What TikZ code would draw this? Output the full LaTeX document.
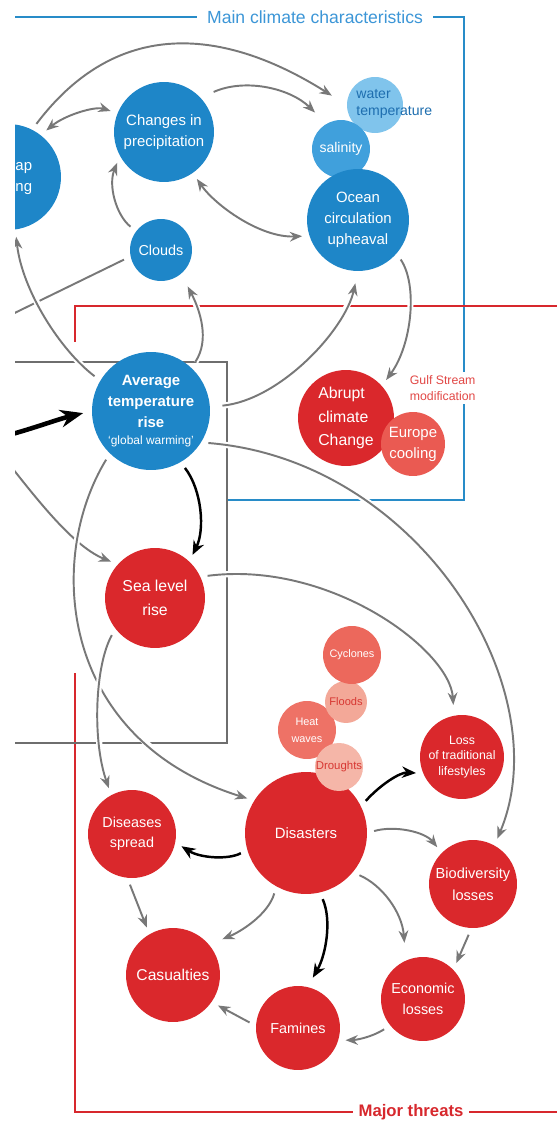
\documentclass[tikz,border=0pt]{standalone}
\usepackage{fontspec}
\setmainfont{Liberation Sans}
\usetikzlibrary{arrows.meta}

\definecolor{climblue}{RGB}{30,134,200}
\definecolor{salblue}{RGB}{64,160,220}
\definecolor{waterblue}{RGB}{128,196,236}
\definecolor{watertext}{RGB}{30,110,175}
\definecolor{threatred}{RGB}{218,40,44}
\definecolor{europered}{RGB}{234,90,82}
\definecolor{cyclonered}{RGB}{236,104,92}
\definecolor{heatred}{RGB}{238,114,102}
\definecolor{floodpink}{RGB}{243,168,152}
\definecolor{droughtpink}{RGB}{245,182,168}
\definecolor{pinktext}{RGB}{215,55,50}
\definecolor{gulfred}{RGB}{226,72,70}
\definecolor{frameblue}{RGB}{40,140,200}
\definecolor{titleblue}{RGB}{60,150,215}
\definecolor{framered}{RGB}{215,40,45}
\definecolor{boxgray}{RGB}{110,110,110}
\definecolor{linkgray}{RGB}{120,120,120}

\tikzset{
  bubble/.style={circle, fill=#1, text=white, align=center, inner sep=0pt,
    font=\fontsize{8.5}{12}\selectfont},
  bubsize/.style={minimum size=#1*0.04cm},
  link/.style={draw=linkgray, line width=1.1pt, >={Stealth[length=7pt,width=5.5pt]}, ->,
    shorten <=4pt, shorten >=4pt, preaction={draw=white, line width=3.5pt, -}},
  boldlink/.style={link, draw=black, line width=1.4pt, >={Stealth[length=8pt,width=6.5pt]}, ->},
  frameline/.style={line width=1.1pt}
}

\begin{document}
\begin{tikzpicture}[x=0.02cm, y=-0.02cm]
    \path[use as bounding box, fill=white] (0,0) rectangle (557,1121);
    \clip (15,0) rectangle (557,1121);
    % Draw the frames
        \draw[frameline, frameblue] (15,17) -- (464,17) -- (464,500) -- (227,500);
        \draw[frameline, framered] (75,342) -- (75,306) -- (557,306);
        \draw[frameline, framered] (75,673) -- (75,1112) -- (557,1112);
        \draw[frameline, boxgray] (15,362) -- (227,362) -- (227,743) -- (15,743);
        \node[fill=white, text=titleblue, font=\fontsize{10}{12}\selectfont, inner xsep=5.5pt] (maintitle)
            at (315,17) {Main climate characteristics};
        \node[fill=white, text=framered, font=\bfseries\fontsize{9.5}{11}\selectfont, inner xsep=3pt] (majortitle)
            at (411,1112) {Major threats};
    % Draw the climate circles
        \node[bubble=climblue, bubsize=53] (icecap) at (8,177) {Ice cap\\melting};
        \node[bubble=climblue, bubsize=50] (precip) at (164,132) {Changes in\\precipitation};
        \node[bubble=waterblue, bubsize=28] (watertemp) at (375,105) {};
        \node[text=watertext, align=left, anchor=west, inner sep=0pt,
            font=\fontsize{8}{10}\selectfont] (watertemplabel) at (356,104) {water\\temperature};
        \node[bubble=salblue, bubsize=29, font=\fontsize{8}{10}\selectfont] (salinity) at (341,149) {salinity};
        \node[bubble=climblue, bubsize=51] (ocean) at (358,220) {Ocean\\circulation\\upheaval};
        \node[bubble=climblue, bubsize=31, font=\fontsize{8.2}{10}\selectfont] (clouds) at (161,250) {Clouds};
        \node[bubble=climblue, bubsize=59, font=\bfseries\fontsize{8.5}{12}\selectfont] (avgtemp) at (151,411)
            {Average\\temperature\\rise\\[-2pt]{\mdseries\fontsize{6.8}{8}\selectfont `global warming'}};
    % Draw the threat circles
        \node[bubble=threatred, bubsize=48, align=left, font=\fontsize{9}{13.5}\selectfont] (abrupt) at (346,418)
            {Abrupt\\climate\\Change};
        \node[bubble=europered, bubsize=32] (europe) at (413,444) {Europe\\cooling};
        \node[fill=white, text=gulfred, align=left, anchor=west, inner sep=2pt,
            font=\fontsize{7}{9.5}\selectfont] (gulf) at (406,388) {Gulf Stream\\modification};
        \node[bubble=threatred, bubsize=50, font=\fontsize{9}{13.5}\selectfont] (sealevel) at (155,598) {Sea level\\rise};
        \node[bubble=threatred, bubsize=61] (disasters) at (306,833) {Disasters};
        \node[bubble=heatred, bubsize=29, font=\fontsize{6.2}{9.5}\selectfont] (heatwaves) at (307,730) {Heat\\waves};
        \node[bubble=floodpink, bubsize=21, text=pinktext, font=\fontsize{6.3}{8}\selectfont] (floods) at (346,702) {Floods};
        \node[bubble=cyclonered, bubsize=29, font=\fontsize{6.2}{8}\selectfont] (cyclones) at (352,655) {Cyclones};
        \node[bubble=droughtpink, bubsize=24, text=pinktext, font=\fontsize{6.5}{8}\selectfont] (droughts) at (339,767) {Droughts};
        \node[bubble=threatred, bubsize=42, font=\fontsize{7}{9}\selectfont] (loss) at (462,757)
            {Loss\\of traditional\\lifestyles};
        \node[bubble=threatred, bubsize=44, font=\fontsize{8.2}{11.5}\selectfont] (diseases) at (132,834) {Diseases\\spread};
        \node[bubble=threatred, bubsize=44, font=\fontsize{8.3}{12.3}\selectfont] (biodiv) at (473,884) {Biodiversity\\losses};
        \node[bubble=threatred, bubsize=47, font=\fontsize{8.9}{11}\selectfont] (casualties) at (173,975) {Casualties};
        \node[bubble=threatred, bubsize=42, font=\fontsize{8.2}{12.3}\selectfont] (economic) at (423,999) {Economic\\losses};
        \node[bubble=threatred, bubsize=42, font=\fontsize{8.2}{10}\selectfont] (famines) at (298,1028) {Famines};
    % Free ends off the left edge
        \coordinate (westcloud) at (-10,325);
        \coordinate (westin) at (-10,440);
        \coordinate (westsea) at (-10,440);
    % Draw the climate links
        \draw[link, shorten >=10pt] (icecap.63) .. controls (130,0) and (250,44) .. (watertemp.180);
        \draw[link, <->] (icecap.52) .. controls (65,115) and (95,106) .. (precip.158);
        \draw[link, shorten <=8pt, shorten >=9pt] (precip.43) .. controls (245,78) and (290,88) .. (salinity.120);
        \draw[link, <->] (precip.-55) .. controls (215,205) and (260,238) .. (ocean.198);
        \draw[link] (clouds.143) .. controls (116,215) and (108,185) .. (precip.209);
        \draw[link] (clouds.192) -- (westcloud);
        \draw[link, shorten >=8pt] (avgtemp.47) .. controls (210,340) and (200,310) .. (clouds.-50);
        \draw[link, shorten <=7pt, shorten >=7pt] (avgtemp.4) .. controls (280,400) and (345,330) .. (ocean.-90);
        \draw[link] (ocean.-41) .. controls (418,285) and (412,345) .. (abrupt.42);
        \draw[link] (avgtemp.149) .. controls (60,350) and (22,290) .. (icecap.-82);
        \draw[black, line width=2.6pt, -{Stealth[length=13pt,width=10pt]}, shorten >=5pt]
            (westin) .. controls (30,430) and (55,420) .. (avgtemp.180);
    % Draw the threat links
        \draw[link] (westsea) .. controls (30,490) and (70,545) .. (sealevel.138);
        \draw[boldlink] (avgtemp.-60) .. controls (202,490) and (205,530) .. (sealevel.47);
        \draw[link] (avgtemp.-134) .. controls (45,560) and (60,740) .. (disasters.148);
        \draw[link] (avgtemp.-32) .. controls (420,460) and (560,690) .. (biodiv.61);
        \draw[link, shorten >=6pt] (sealevel.25) .. controls (330,560) and (450,650) .. (loss.101);
        \draw[link] (sealevel.218) .. controls (95,665) and (92,740) .. (diseases.118);
        \draw[boldlink] (disasters.26) .. controls (380,785) and (400,772) .. (loss.203);
        \draw[boldlink] (disasters.196) .. controls (228,860) and (200,858) .. (diseases.-11);
        \draw[link] (disasters.0) .. controls (395,825) and (425,832) .. (biodiv.135);
        \draw[link, shorten >=8pt] (disasters.241) .. controls (268,915) and (240,932) .. (casualties.40);
        \draw[boldlink, shorten >=6pt] (disasters.-77) .. controls (332,920) and (326,955) .. (famines.77);
        \draw[link, shorten >=10pt] (disasters.-40) .. controls (382,885) and (402,912) .. (economic.114);
        \draw[link] (diseases.-96) -- (casualties.120);
        \draw[link] (biodiv.-92) -- (economic.44);
        \draw[link] (economic.219) .. controls (370,1038) and (355,1040) .. (famines.-17);
        \draw[link] (famines.177) -- (casualties.-35);
\end{tikzpicture}
\end{document}
